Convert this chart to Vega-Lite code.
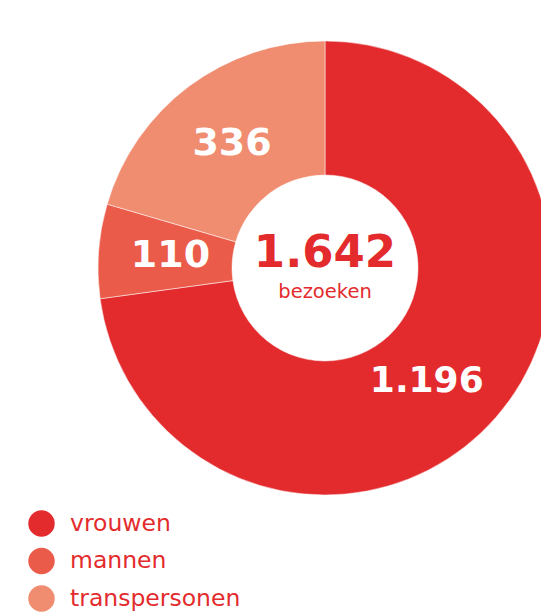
{
  "$schema": "https://vega.github.io/schema/vega-lite/v6.json",
  "width": 454,
  "height": 454,
  "autosize": "none",
  "padding": {"left": 98, "top": 41, "right": 0, "bottom": 117},
  "background": "white",
  "config": {"view": {"stroke": null}},
  "data": {
    "values": [
      {"groep": "vrouwen", "bezoeken": 1196, "label": "1.196", "volgorde": 1},
      {"groep": "mannen", "bezoeken": 110, "label": "110", "volgorde": 2},
      {"groep": "transpersonen", "bezoeken": 336, "label": "336", "volgorde": 3}
    ]
  },
  "layer": [
    {
      "mark": {"type": "arc", "innerRadius": 93, "outerRadius": 227, "stroke": "white", "strokeWidth": 0.5},
      "encoding": {
        "theta": {"field": "bezoeken", "type": "quantitative", "stack": true},
        "order": {"field": "volgorde", "type": "quantitative"},
        "color": {
          "field": "groep",
          "type": "nominal",
          "sort": ["vrouwen", "mannen", "transpersonen"],
          "scale": {"domain": ["vrouwen", "mannen", "transpersonen"], "range": ["#E32B2D", "#EB5B4A", "#F08C70"]},
          "legend": {
            "title": null,
            "orient": "none",
            "legendX": -70,
            "legendY": 469,
            "padding": 0,
            "symbolType": "circle",
            "symbolSize": 700,
            "symbolStrokeWidth": 0,
            "symbolOpacity": 1,
            "labelFont": "DejaVu Sans",
            "labelFontSize": 23.5,
            "labelColor": "#E32B2D",
            "labelOffset": 15,
            "rowPadding": 10.5,
            "labelLimit": 300
          }
        }
      }
    },
    {
      "mark": {"type": "text", "radius": 155, "font": "DejaVu Sans", "fontWeight": "bold", "fontSize": 38, "color": "white", "baseline": "middle", "align": "center"},
      "encoding": {
        "theta": {"field": "bezoeken", "type": "quantitative", "stack": true},
        "order": {"field": "volgorde", "type": "quantitative"},
        "text": {"condition": {"test": "datum.groep !== 'vrouwen'", "field": "label"}, "value": ""}
      }
    },
    {
      "mark": {"type": "text", "radius": 155, "font": "DejaVu Sans", "fontWeight": "bold", "fontSize": 36, "color": "white", "baseline": "middle", "align": "center", "dx": -15, "dy": 11},
      "encoding": {
        "theta": {"field": "bezoeken", "type": "quantitative", "stack": true},
        "order": {"field": "volgorde", "type": "quantitative"},
        "text": {"condition": {"test": "datum.groep === 'vrouwen'", "field": "label"}, "value": ""}
      }
    },
    {
      "data": {"values": [{"t": "1.642"}]},
      "mark": {"type": "text", "font": "DejaVu Sans", "fontWeight": "bold", "fontSize": 45, "color": "#E32B2D", "baseline": "middle", "align": "center", "dy": -15},
      "encoding": {"text": {"field": "t"}}
    },
    {
      "data": {"values": [{"t": "bezoeken"}]},
      "mark": {"type": "text", "font": "DejaVu Sans", "fontSize": 19.5, "color": "#E32B2D", "baseline": "middle", "align": "center", "dy": 24},
      "encoding": {"text": {"field": "t"}}
    }
  ]
}
